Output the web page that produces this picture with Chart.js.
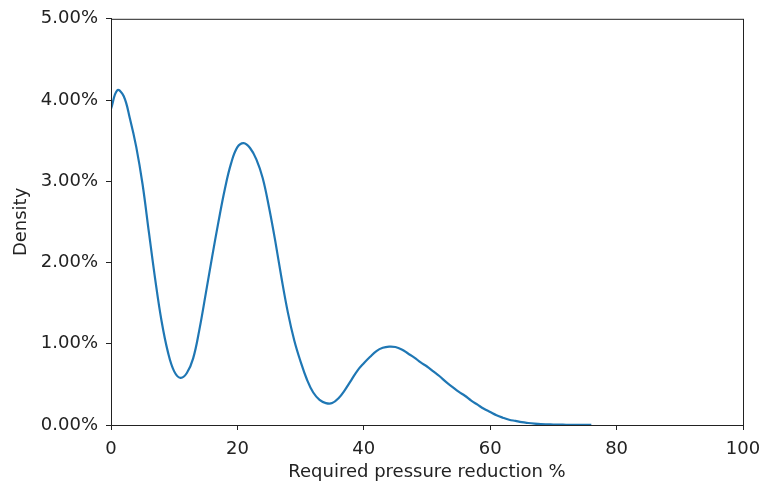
<!DOCTYPE html>
<html>
<head>
<meta charset="utf-8">
<script src="https://cdn.jsdelivr.net/npm/chart.js@4.4.0/dist/chart.umd.min.js"></script>
<style>
  html, body { margin: 0; padding: 0; background: #fff; }
  #wrap { width: 766px; height: 489px; }
</style>
</head>
<body>
<div id="wrap"><canvas id="grafica" width="766" height="489"></canvas></div>
<script>
// reduccion requerida (%) y densidad (%)
var reduccion = [0,1,2,3,4,5,6,7,8,9,10,11,12,13,14,15,16,17,18,19,20,21,22,23,24,25,26,27,28,29,30,
  31,32,33,34,35,36,37,38,39,40,41,42,43,44,45,46,47,48,49,50,51,52,53,54,55,56,57,58,59,60,
  61,62,63,64,65,66,67,68,69,70,71,72,73,74,75,76];
var densidad = [3.89,4.12,4.05,3.77,3.42,2.96,2.37,1.79,1.28,0.90,0.66,0.58,0.64,0.82,1.18,1.62,2.07,2.50,2.90,3.22,3.42,3.47,3.41,3.27,3.04,2.68,2.26,1.80,1.38,1.04,0.78,
  0.56,0.40,0.31,0.27,0.27,0.33,0.43,0.55,0.67,0.76,0.84,0.91,0.95,0.965,0.96,0.93,0.88,0.83,0.77,0.72,0.66,0.60,0.53,0.47,0.41,0.36,0.30,0.25,0.20,0.16,
  0.12,0.09,0.065,0.05,0.035,0.025,0.017,0.011,0.008,0.006,0.004,0.003,0.002,0.001,0.001,0.0005];
var ticksX = [0,20,40,60,80,100];
var ticksY = [0,1,2,3,4,5];

var fuente = {family: 'DejaVu Sans', size: 18};

// marco completo alrededor del area
var marco = {
  id: 'marco',
  afterDraw: function(chart){
    var a = chart.chartArea;
    var ctx = chart.ctx;
    ctx.save();
    ctx.strokeStyle = '#222';
    ctx.lineWidth = 1;
    ctx.strokeRect(a.left + 0.5, a.top + 0.5, a.right - a.left, a.bottom - a.top);
    ctx.restore();
  }
};

var puntos = reduccion.map(function(r, i){ return {x: r, y: densidad[i]}; });

var ctx = document.getElementById('grafica').getContext('2d');
var chart = new Chart(ctx, {
  type: 'line',
  data: {
    datasets: [{
      label: 'Density',
      data: puntos,
      borderColor: '#1f77b4',
      borderWidth: 2.2,
      pointRadius: 0,
      fill: false,
      tension: 0.4
    }]
  },
  options: {
    responsive: false,
    animation: false,
    layout: {padding: {left: 0, right: 23, top: 16, bottom: 0}},
    plugins: {legend: {display: false}, tooltip: {enabled: false}},
    scales: {
      x: {
        type: 'linear', min: 0, max: 100,
        afterBuildTicks: function(s){ s.ticks = ticksX.map(function(v){ return {value: v}; }); },
        afterFit: function(s){ s.height = 64; s.paddingRight = 0; s.paddingLeft = 0; },
        grid: {display: true, drawOnChartArea: false, tickLength: 5, color: '#222'},
        border: {display: true, color: '#222'},
        ticks: {color: '#222', font: fuente, padding: 9, maxRotation: 0},
        title: {display: true, text: 'Required pressure reduction %', color: '#222', font: fuente, padding: {top: 0, bottom: 6}}
      },
      y: {
        min: 0, max: 5,
        afterBuildTicks: function(s){ s.ticks = ticksY.map(function(v){ return {value: v}; }); },
        afterFit: function(s){ s.width = 111; },
        grid: {display: true, drawOnChartArea: false, tickLength: 5, color: '#222'},
        border: {display: true, color: '#222'},
        ticks: {color: '#222', font: fuente, padding: 8, callback: function(v){ return v.toFixed(2) + '%'; }},
        title: {display: true, text: 'Density', color: '#222', font: fuente, padding: {top: 11, bottom: 0}}
      }
    }
  },
  plugins: [marco]
});
</script>
</body>
</html>
